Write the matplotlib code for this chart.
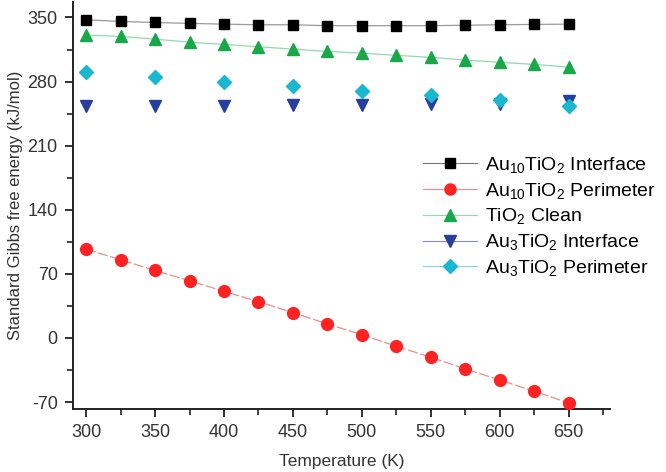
import matplotlib
matplotlib.use("Agg")
import matplotlib.pyplot as plt
from matplotlib.lines import Line2D
from matplotlib.ticker import MultipleLocator

plt.rcParams['font.family'] = ['Liberation Sans', 'DejaVu Sans']
plt.rcParams['mathtext.fontset'] = 'custom'
plt.rcParams['mathtext.rm'] = 'Liberation Sans'
plt.rcParams['mathtext.it'] = 'Liberation Sans'
plt.rcParams['axes.unicode_minus'] = False

T = [300, 325, 350, 375, 400, 425, 450, 475, 500, 525, 550, 575, 600, 625, 650]
T50 = [300, 350, 400, 450, 500, 550, 600, 650]

au10_interface = [347.5, 345.6, 344.5, 343.5, 342.7, 342.0, 342.0, 341.0, 341.0,
                  341.0, 341.0, 341.5, 342.0, 342.4, 342.7]
au10_perimeter = [97.0, 85.4, 73.7, 62.5, 50.9, 39.6, 27.7, 15.2, 3.6,
                  -9.1, -21.1, -33.8, -46.0, -58.3, -71.0]
tio2_clean = [330.8, 329.3, 326.3, 323.0, 320.5, 318.0, 315.4, 312.9, 311.0,
              308.6, 306.4, 303.5, 301.0, 298.7, 295.8]
au3_interface = [253.0, 253.0, 253.0, 254.0, 254.4, 255.4, 256.0, 259.0]
au3_perimeter = [290.0, 284.9, 280.0, 274.8, 269.4, 265.3, 259.6, 253.4]

labels = [r'Au$_{10}$TiO$_2$ Interface', r'Au$_{10}$TiO$_2$ Perimeter',
          r'TiO$_2$ Clean', r'Au$_3$TiO$_2$ Interface', r'Au$_3$TiO$_2$ Perimeter']

fig = plt.figure(figsize=(6.66, 4.72), dpi=100)
ax = fig.add_axes([0.1096, 0.1335, 0.8064, 0.8625])

ax.plot(T, au10_interface, color='#9a9a9a', lw=0.9, marker='s', ms=7.5,
        mfc='black', mec='black', zorder=3)
ax.plot(T, au10_perimeter, color='#f08a8a', lw=0.9, ls=(0, (8, 2)), marker='o', ms=8.5,
        mfc='#ff2222', mec='#ff2222', zorder=3)
ax.plot(T, tio2_clean, color='#8fdcaa', lw=0.9, marker='^', ms=9,
        mfc='#18a84a', mec='#18a84a', zorder=3)
ax.plot(T50, au3_interface, ls='none', marker='v', ms=9,
        mfc='#263f9c', mec='#263f9c', zorder=3)
ax.plot(T50, au3_perimeter, ls='none', marker='D', ms=7.5,
        mfc='#1ab8d0', mec='#1ab8d0', zorder=4)

handles = [
    Line2D([], [], color='#777777', lw=0.8, marker='s', ms=7, mfc='black', mec='black'),
    Line2D([], [], color='#f08a8a', lw=0.8, marker='o', ms=8, mfc='#ff2222', mec='#ff2222'),
    Line2D([], [], color='#8fdcaa', lw=0.8, marker='^', ms=8.5, mfc='#18a84a', mec='#18a84a'),
    Line2D([], [], color='#8888cc', lw=0.8, marker='v', ms=8.5, mfc='#263f9c', mec='#263f9c'),
    Line2D([], [], color='#7fd8e4', lw=0.8, marker='D', ms=7, mfc='#1ab8d0', mec='#1ab8d0'),
]
fig.legend(handles, labels, loc='upper left', bbox_to_anchor=(0.635, 0.672),
           bbox_transform=fig.transFigure,
           frameon=False, fontsize=14, handlelength=2.8, labelspacing=0.3,
           handletextpad=0.4, borderaxespad=0, borderpad=0)

ax.set_xlim(290.5, 680)
ax.set_ylim(-77.6, 367)
ax.xaxis.set_minor_locator(MultipleLocator(25))
ax.yaxis.set_minor_locator(MultipleLocator(35))
ax.set_xticks(range(300, 651, 50))
ax.set_yticks(range(-70, 351, 70))

for s in ['top', 'right']:
    ax.spines[s].set_visible(False)
for s in ['left', 'bottom']:
    ax.spines[s].set_linewidth(1.4)
    ax.spines[s].set_color('#222222')

ax.tick_params(which='major', direction='out', length=6, width=1.3, labelsize=13,
               colors='#222222', labelcolor='#333333', pad=5)
ax.tick_params(which='minor', direction='out', length=4, width=1.2, colors='#222222')

ax.set_xlabel('Temperature (K)', fontsize=12.5, color='#333333', labelpad=9)
ax.set_ylabel('Standard Gibbs free energy (kJ/mol)', fontsize=12, color='#333333', labelpad=3)

fig.savefig('out.png', dpi=100)
